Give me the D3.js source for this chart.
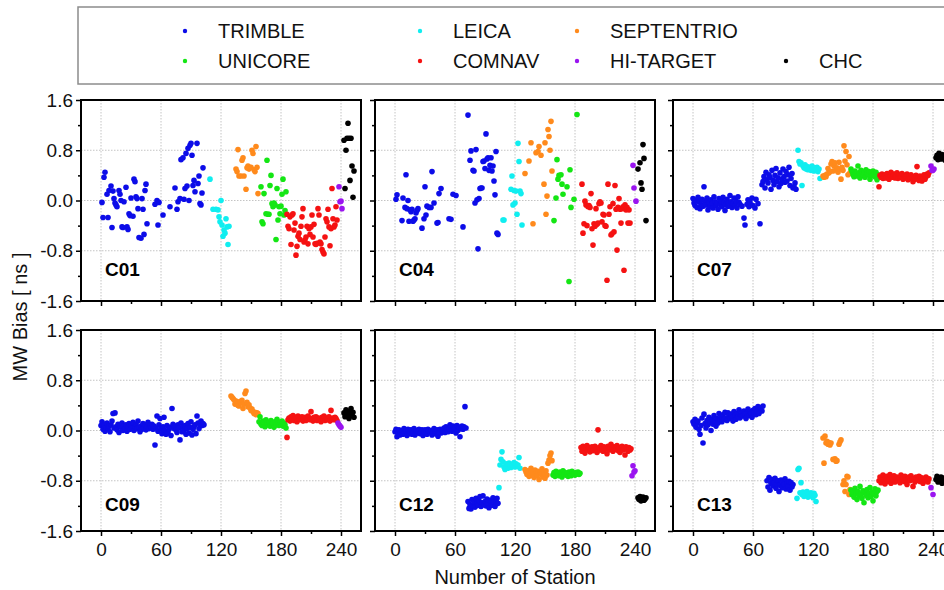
<!DOCTYPE html>
<html>
<head>
<meta charset="utf-8">
<script src="https://cdn.jsdelivr.net/npm/d3@7"></script>
<style>
  body { margin: 0; background: #fff; }
  svg { display: block; font-family: Arial, "Liberation Sans", sans-serif; }
</style>
</head>
<body>
<svg id="chart" width="944" height="590"></svg>
<script>
// receiver brands, in legend order, and the first station number of each group
const BRANDS = ["TRIMBLE", "LEICA", "SEPTENTRIO", "UNICORE", "COMNAV", "HI-TARGET", "CHC"];
const FIRST_STATION = { TRIMBLE: 0, LEICA: 104, SEPTENTRIO: 130, UNICORE: 158, COMNAV: 186, "HI-TARGET": 237, CHC: 243 };
const X_TICKS = [0, 60, 120, 180, 240];
const X_MINOR = [30, 90, 150, 210];
const Y_TICKS = [-1.6, -0.8, 0, 0.8, 1.6];
const Y_MINOR = [-1.2, -0.4, 0.4, 1.2];

// MW bias [ns] per station (null = no value)
const C01_TRIMBLE = [null,-0.03,-0.27,0.37,0.45,null,0.10,-0.27,0.16,null,
  0.23,-0.43,0.15,0.03,-0.04,-0.07,-0.10,null,0.16,0.10,
  0.00,-0.42,-0.43,-0.02,null,0.21,-0.42,-0.46,-0.21,-0.24,
  0.04,null,-0.25,0.34,0.30,0.06,0.03,-0.13,-0.59,null,
  -0.60,0.03,-0.14,-0.54,0.16,0.26,-0.37,null,null,null,
  null,null,null,null,-0.06,null,0.00,-0.39,-0.03,null,
  null,null,-0.23,null,null,null,null,null,null,-0.10,
  null,null,null,null,0.20,null,-0.14,-0.02,null,0.03,
  0.65,null,0.68,0.02,0.19,0.75,0.23,0.83,0.00,0.88,
  0.91,0.72,0.24,0.32,0.14,null,0.91,0.27,0.39,-0.05,
  -0.07,0.12,0.52,null];
const C01_LEICA = [null,null,null,null,null,0.34,null,null,-0.14,null,null,-0.14,null,-0.15,-0.26,-0.34,0.00,-0.39,-0.57,-0.47,-0.52,-0.29,-0.42,-0.70,-0.41,null];
const C01_SEPTENTRIO = [null,null,null,null,null,0.50,0.46,0.81,0.39,null,0.39,0.64,0.68,0.39,null,0.18,0.52,0.55,0.50,null,0.53,0.80,0.75,0.49,0.46,0.86,0.53,0.11];
const C01_UNICORE = [null,null,0.22,-0.34,-0.37,0.11,null,-0.21,0.64,-0.22,-0.22,0.24,0.40,-0.05,-0.10,-0.04,-0.07,-0.62,0.19,-0.31,-0.10,-0.21,-0.09,0.10,0.34,-0.23,-0.16,0.14];
const C01_COMNAV = [-0.22,-0.41,-0.45,-0.26,-0.70,-0.23,-0.21,-0.47,-0.36,-0.87,
  -0.73,-0.57,-0.52,-0.62,-0.41,-0.26,-0.13,-0.66,-0.63,-0.58,
  -0.41,-0.69,-0.45,-0.54,-0.42,-0.23,-0.58,-0.38,-0.69,-0.70,
  -0.68,-0.13,-0.23,-0.66,-0.69,-0.78,-0.82,-0.85,-0.58,-0.29,
  -0.34,-0.14,-0.42,-0.72,-0.45,0.19,-0.29,-0.42,-0.39,-0.10,-0.31];
const C01_HITARGET = [null,0.22,-0.02,-0.01,-0.13,null];
const C01_CHC = [0.96,0.19,0.80,0.99,1.23,0.99,0.32,0.99,0.55,0.05,0.47];

const C04_TRIMBLE = [null,0.02,0.09,null,null,null,null,-0.32,0.04,null,
  -0.11,0.41,-0.13,0.00,-0.33,-0.15,-0.18,-0.14,-0.33,-0.31,
  -0.29,-0.20,-0.16,-0.13,null,null,null,-0.44,null,-0.29,
  0.22,-0.23,-0.09,null,-0.11,null,-0.11,0.46,null,-0.04,
  null,null,-0.36,-0.35,0.11,null,0.19,null,null,null,
  null,null,null,null,-0.29,null,-0.30,null,0.10,null,
  null,0.08,null,null,null,null,null,null,-0.42,null,
  null,null,null,1.36,null,0.64,0.79,null,0.48,0.47,
  -0.04,0.81,0.01,-0.77,0.03,0.19,0.20,0.20,0.62,0.63,
  0.51,1.06,0.66,0.68,0.48,0.56,0.68,0.47,0.55,0.31,
  0.09,0.78,-0.52,-0.54];
const C04_LEICA = [null,null,null,null,-0.31,-0.31,null,null,null,null,null,null,0.18,0.39,-0.07,0.16,-0.04,0.15,-0.22,0.91,0.62,0.15,0.11,-0.39,null,null];
const C04_SEPTENTRIO = [0.43,null,null,null,0.63,null,0.92,null,-0.37,null,null,0.76,null,0.78,0.86,null,0.72,null,null,0.26,0.92,-0.22,0.07,1.13,1.02,0.80,1.26,0.47];
const C04_UNICORE = [null,-0.32,null,0.04,0.65,0.34,0.40,null,0.41,0.26,0.10,null,null,null,0.22,null,-1.29,0.49,-0.11,null,null,0.02,null,null,1.37,null,null,null];
const C04_COMNAV = [null,0.26,-0.52,-0.37,-0.01,-0.07,-0.40,-0.10,-0.08,-0.11,
  0.11,-0.45,-0.71,-0.37,-0.41,-0.13,-0.38,-0.36,-0.05,-0.02,
  -0.04,-0.34,-0.22,-0.23,-0.40,-0.41,-1.27,0.26,-0.22,-0.10,
  -0.55,-0.53,-0.05,-0.50,0.24,-0.14,-0.79,-0.11,0.03,-0.14,
  -0.36,-0.13,-0.10,-1.11,-0.07,-0.15,-0.11,-0.36,-0.15,-0.36,null];
const C04_HITARGET = [null,0.56,0.20,null,-0.01,null];
const C04_CHC = [0.50,null,0.60,0.28,0.18,0.89,0.67,null,-0.32,null,null];

const C07_TRIMBLE = [0.03,-0.04,-0.08,0.00,-0.11,0.05,-0.02,-0.13,-0.06,0.02,
  -0.09,0.22,-0.01,-0.07,0.04,-0.15,-0.03,-0.10,0.01,-0.05,
  -0.12,0.06,-0.02,-0.08,-0.04,-0.14,0.03,-0.06,-0.01,-0.10,
  0.05,-0.03,-0.16,-0.07,0.02,-0.09,-0.04,0.08,-0.02,-0.11,
  -0.05,0.04,-0.08,-0.01,-0.12,0.06,-0.03,-0.06,null,-0.09,
  null,-0.28,-0.39,null,-0.06,0.01,-0.10,-0.03,null,0.04,
  -0.08,null,-0.12,0.02,null,-0.05,null,-0.37,null,0.25,
  0.30,0.38,0.20,0.45,0.33,0.28,0.41,0.37,0.18,0.48,
  0.32,0.25,0.40,0.51,0.30,0.36,0.22,0.44,0.27,0.34,
  0.50,0.38,0.29,0.46,0.31,0.41,0.53,0.24,0.35,0.43,
  0.20,0.22,0.28,0.18];
const C07_LEICA = [null,0.80,0.62,0.58,0.60,0.24,0.55,0.52,0.57,0.50,0.54,0.49,0.53,0.51,0.48,0.55,0.50,0.47,0.52,0.49,0.53,0.46,0.50,0.35,null,null];
const C07_SEPTENTRIO = [0.39,0.37,0.40,0.38,0.42,0.51,0.44,0.46,0.58,0.62,0.47,0.55,0.60,0.49,0.52,0.45,0.61,0.50,0.34,0.53,0.48,0.87,0.63,0.78,0.57,0.41,0.70,0.44];
const C07_UNICORE = [0.50,0.46,0.41,0.38,0.47,0.43,0.39,0.55,0.44,0.36,0.48,0.42,0.40,0.45,0.37,0.49,0.43,0.41,0.46,0.34,0.44,0.40,0.47,0.42,0.38,0.45,0.33,0.41];
const C07_COMNAV = [0.22,0.40,0.37,0.42,0.35,0.39,0.41,0.36,0.43,0.38,
  0.34,0.40,0.45,0.37,0.39,0.42,0.36,0.38,0.44,0.35,
  0.41,0.37,0.39,0.43,0.34,0.40,0.36,0.38,0.42,0.33,
  0.39,0.35,0.41,0.37,0.30,0.38,0.34,0.40,0.54,0.36,
  0.32,0.39,0.35,0.31,0.37,0.41,0.34,0.38,0.42,0.40,0.44];
const C07_HITARGET = [null,0.55,0.48,0.48,0.50,null];
const C07_CHC = [0.68,0.72,0.65,0.75,0.70,0.66,0.73,0.69,0.71,0.64,0.74];

const C09_TRIMBLE = [0.08,0.14,0.02,0.10,-0.01,0.05,0.12,0.03,0.07,-0.02,
  0.09,0.15,0.27,0.04,0.28,0.06,0.01,0.10,-0.03,0.08,
  0.05,0.12,0.00,0.07,0.03,0.09,-0.01,0.06,0.11,0.02,
  0.08,0.04,0.13,0.00,0.06,0.10,0.03,0.15,0.05,-0.02,
  0.07,0.02,0.11,0.04,0.09,0.01,0.06,0.13,0.03,0.08,
  0.05,0.10,0.02,0.07,-0.23,0.04,0.23,-0.01,0.09,0.19,
  0.03,-0.05,0.06,0.21,0.00,-0.06,0.08,-0.04,0.02,0.05,
  -0.08,0.35,0.10,0.03,0.07,0.01,-0.03,0.09,0.04,-0.15,
  0.12,-0.02,0.06,0.00,0.08,-0.06,0.03,0.11,-0.04,0.05,
  0.14,-0.07,0.02,0.06,0.09,-0.05,0.23,0.12,0.03,0.10,
  0.15,0.08,0.11,0.09];
const C09_LEICA = [];
const C09_SEPTENTRIO = [0.55,0.53,0.51,0.49,0.42,0.47,0.45,0.40,0.39,0.46,0.44,0.48,0.35,0.42,0.59,0.63,0.45,0.38,0.41,0.36,0.32,0.34,0.30,0.27,0.29,0.25,0.28,0.27];
const C09_UNICORE = [0.14,0.22,0.10,0.08,0.15,0.12,0.06,0.17,0.11,0.09,0.13,0.07,0.16,0.10,0.12,0.05,0.14,0.09,0.18,0.11,0.08,0.13,0.10,0.15,0.07,0.12,0.09,0.04];
const C09_COMNAV = [-0.11,0.17,0.20,0.15,0.22,0.18,0.24,0.16,0.21,0.19,
  0.14,0.23,0.17,0.20,0.18,0.22,0.15,0.19,0.21,0.16,
  0.18,0.23,0.20,0.17,0.30,0.19,0.15,0.21,0.18,0.22,
  0.16,0.20,0.17,0.19,0.14,0.21,0.18,0.23,0.16,0.20,
  0.17,0.19,0.22,0.15,0.32,0.18,0.20,0.17,0.21,0.19,0.16];
const C09_HITARGET = [0.12,0.09,0.07,0.05,null,null];
const C09_CHC = [0.28,0.22,0.33,0.25,0.30,0.19,0.27,0.35,0.24,0.29,0.21];

const C12_TRIMBLE = [-0.02,0.02,-0.10,-0.05,0.01,-0.07,-0.03,0.00,-0.06,0.03,
  -0.04,-0.01,-0.08,0.02,-0.05,-0.02,0.01,-0.06,-0.03,0.03,
  -0.07,0.00,-0.04,-0.01,0.02,-0.05,-0.03,0.01,-0.08,-0.02,
  0.01,-0.04,-0.06,0.02,-0.01,-0.03,0.00,-0.07,-0.02,0.03,
  -0.05,-0.01,0.01,-0.09,-0.03,0.02,-0.04,0.00,-0.02,0.04,
  -0.03,0.06,0.01,-0.02,0.03,0.09,0.05,-0.01,0.07,0.02,
  0.04,-0.04,0.08,0.00,0.05,-0.10,0.03,0.07,0.02,0.06,
  0.38,0.04,null,-1.13,-1.24,-1.18,-1.25,-1.10,-1.20,-1.14,
  -1.22,-1.08,-1.16,-1.19,-1.12,-1.05,-1.21,-1.15,-1.04,-1.18,
  -1.13,-1.20,-1.09,-1.17,-1.23,-1.11,-1.15,-1.19,-1.07,-1.14,
  -1.21,-1.12,-1.08,-1.16];
const C12_LEICA = [-0.91,-0.55,-0.46,-0.34,-0.50,-0.58,-0.62,-0.53,-0.57,-0.60,-0.52,-0.55,-0.59,-0.54,-0.56,-0.51,-0.58,-0.53,-0.57,-0.55,-0.43,-0.60,null,null,null,null];
const C12_SEPTENTRIO = [-0.62,-0.66,-0.70,-0.64,-0.73,-0.68,-0.60,-0.71,-0.66,-0.75,-0.63,-0.69,-0.72,-0.65,-0.78,-0.67,-0.70,-0.61,-0.74,-0.68,-0.76,-0.64,-0.71,-0.52,-0.47,-0.40,-0.36,-0.48];
const C12_UNICORE = [-0.71,-0.67,-0.73,-0.65,-0.70,-0.68,-0.72,-0.66,-0.69,-0.74,-0.64,-0.70,-0.67,-0.71,-0.68,-0.73,-0.66,-0.69,-0.72,-0.65,-0.70,-0.68,-0.71,-0.67,-0.69,-0.66,-0.70,-0.68];
const C12_COMNAV = [-0.27,-0.33,-0.25,-0.30,-0.36,-0.28,-0.24,-0.31,-0.27,-0.34,
  -0.29,-0.26,-0.32,-0.28,-0.25,-0.30,-0.35,0.01,-0.27,-0.31,
  -0.24,-0.29,-0.33,-0.26,-0.30,-0.28,-0.37,-0.25,-0.31,-0.27,
  -0.22,-0.29,-0.33,-0.26,-0.30,-0.28,-0.24,-0.32,-0.27,-0.35,
  -0.29,-0.25,-0.31,-0.28,-0.39,-0.26,-0.30,-0.33,-0.27,-0.31,-0.29];
const C12_HITARGET = [-0.72,-0.56,-0.66,-0.64,null,null];
const C12_CHC = [-1.07,-1.10,-1.05,-1.12,-1.08,-1.06,-1.11,-1.09,-1.07,null,null];

const C13_TRIMBLE = [0.14,0.10,0.18,0.05,0.12,0.15,0.02,-0.06,0.08,0.20,
  -0.20,0.26,0.11,0.04,0.16,0.09,0.21,0.13,0.00,0.18,
  0.10,0.24,0.15,0.07,0.19,0.12,0.27,0.17,0.22,0.14,
  0.25,0.18,0.29,0.20,0.16,0.28,0.23,0.19,0.26,0.21,
  0.15,0.30,0.24,0.18,0.27,0.22,0.33,0.20,0.25,0.29,
  0.23,0.31,0.26,0.19,0.28,0.34,0.24,0.30,0.27,0.21,
  0.32,0.28,0.35,0.25,0.30,0.38,0.27,0.33,0.36,0.31,
  0.39,null,null,null,-0.80,-0.90,-0.75,-0.95,-0.84,-0.78,
  -0.88,-0.83,-0.76,-0.92,-0.85,-0.80,-0.97,-0.87,-0.79,-0.91,
  -0.82,-0.86,-0.77,-0.93,-0.84,-0.89,-0.81,-0.95,-0.83,-0.90,
  -0.86,null,null,null];
const C13_LEICA = [-1.08,-0.62,-0.60,-0.99,-0.83,-1.02,-0.98,-1.05,-1.00,-1.03,-0.97,-1.06,-1.01,-1.04,-0.99,-1.02,-1.07,-1.00,-1.03,-1.13,null,null,null,null,null,null];
const C13_SEPTENTRIO = [-0.12,-0.52,-0.09,-0.20,-0.17,-0.22,-0.19,-0.23,-0.20,null,-0.46,null,-0.45,-0.49,-0.48,null,-0.22,-0.18,-0.15,null,-0.86,-0.80,-0.97,-0.86,-0.73,-0.74,-1.02,-0.94];
const C13_UNICORE = [-0.95,-1.02,-0.98,-1.06,-0.92,-1.00,-1.10,-0.97,-1.04,-0.89,-1.01,-1.08,-0.96,-1.15,-0.99,-1.03,-0.94,-1.07,-1.00,-0.91,-1.05,-0.98,-1.12,-1.01,-0.93,-1.04,-0.97,-0.95];
const C13_COMNAV = [-0.80,-0.74,-0.83,-0.77,-0.71,-0.79,-0.85,-0.76,-0.73,-0.81,
  -0.78,-0.70,-0.84,-0.75,-0.79,-0.72,-0.82,-0.77,-0.74,-0.80,
  -0.76,-0.83,-0.71,-0.78,-0.75,-0.81,-0.73,-0.79,-0.86,-0.77,
  -0.74,-0.80,-0.72,-0.78,-0.89,-0.76,-0.82,-0.74,-0.79,-0.77,
  -0.73,-0.81,-0.75,-0.78,-0.84,-0.76,-0.80,-0.74,-0.79,-0.82,-0.77];
const C13_HITARGET = [null,-0.91,null,-1.02,null,null];
const C13_CHC = [-0.78,-0.73,-0.82,-0.76,-0.80,-0.74,-0.84,-0.77,-0.79,-0.75,null];

const panels = [
  { name: "C01", series: { TRIMBLE: C01_TRIMBLE, LEICA: C01_LEICA, SEPTENTRIO: C01_SEPTENTRIO, UNICORE: C01_UNICORE, COMNAV: C01_COMNAV, "HI-TARGET": C01_HITARGET, CHC: C01_CHC } },
  { name: "C04", series: { TRIMBLE: C04_TRIMBLE, LEICA: C04_LEICA, SEPTENTRIO: C04_SEPTENTRIO, UNICORE: C04_UNICORE, COMNAV: C04_COMNAV, "HI-TARGET": C04_HITARGET, CHC: C04_CHC } },
  { name: "C07", series: { TRIMBLE: C07_TRIMBLE, LEICA: C07_LEICA, SEPTENTRIO: C07_SEPTENTRIO, UNICORE: C07_UNICORE, COMNAV: C07_COMNAV, "HI-TARGET": C07_HITARGET, CHC: C07_CHC } },
  { name: "C09", series: { TRIMBLE: C09_TRIMBLE, LEICA: C09_LEICA, SEPTENTRIO: C09_SEPTENTRIO, UNICORE: C09_UNICORE, COMNAV: C09_COMNAV, "HI-TARGET": C09_HITARGET, CHC: C09_CHC } },
  { name: "C12", series: { TRIMBLE: C12_TRIMBLE, LEICA: C12_LEICA, SEPTENTRIO: C12_SEPTENTRIO, UNICORE: C12_UNICORE, COMNAV: C12_COMNAV, "HI-TARGET": C12_HITARGET, CHC: C12_CHC } },
  { name: "C13", series: { TRIMBLE: C13_TRIMBLE, LEICA: C13_LEICA, SEPTENTRIO: C13_SEPTENTRIO, UNICORE: C13_UNICORE, COMNAV: C13_COMNAV, "HI-TARGET": C13_HITARGET, CHC: C13_CHC } }
];

const color = d3.scaleOrdinal()
  .domain(BRANDS)
  .range(["#0c0ce8", "#10eef0", "#ff8a1c", "#14e614", "#f51212", "#9a14f0", "#000000"]);

const svg = d3.select("#chart");
const W = 280, H = 201;
const colX = [81, 375, 673], rowY = [100, 330];

const x = d3.scaleLinear().domain([-20, 260]).range([0, W]);
const y = d3.scaleLinear().domain([-1.6, 1.6]).range([H, 0]);

// legend box
svg.append("rect")
  .attr("x", 78).attr("y", 7).attr("width", 900).attr("height", 77)
  .attr("fill", "#fff").attr("stroke", "#8c8c8c").attr("stroke-width", 1.5);

const legendPos = {
  TRIMBLE: [185, 31], LEICA: [420, 31], SEPTENTRIO: [577, 31],
  UNICORE: [185, 61], COMNAV: [420, 61], "HI-TARGET": [577, 61], CHC: [786, 61]
};
const legend = svg.append("g").selectAll("g").data(BRANDS).join("g")
  .attr("transform", (d) => `translate(${legendPos[d][0]},${legendPos[d][1]})`);
legend.append("circle").attr("r", 2.2).attr("fill", (d) => color(d));
legend.append("text")
  .attr("x", 33).attr("y", 7)
  .attr("font-size", 20)
  .attr("fill", "#111")
  .text((d) => d);

panels.forEach((p, i) => {
  const col = i % 3, row = Math.floor(i / 3);
  const g = svg.append("g").attr("transform", `translate(${colX[col]},${rowY[row]})`);

  // dotted grid
  g.selectAll(".gx").data(X_TICKS).join("line")
    .attr("x1", (d) => x(d)).attr("x2", (d) => x(d))
    .attr("y1", 0).attr("y2", H)
    .attr("stroke", "#c4c4c4").attr("stroke-dasharray", "1.5,1.5");
  g.selectAll(".gy").data([-0.8, 0, 0.8]).join("line")
    .attr("x1", 0).attr("x2", W)
    .attr("y1", (d) => y(d)).attr("y2", (d) => y(d))
    .attr("stroke", "#c4c4c4").attr("stroke-dasharray", "1.5,1.5");

  // points
  const pts = [];
  BRANDS.forEach((b) => {
    p.series[b].forEach((v, k) => {
      if (v !== null) pts.push({ brand: b, station: FIRST_STATION[b] + k, value: v });
    });
  });
  g.selectAll(".pt").data(pts).join("circle")
    .attr("cx", (d) => x(d.station))
    .attr("cy", (d) => y(d.value))
    .attr("r", 2.8)
    .attr("fill", (d) => color(d.brand));

  // frame
  g.append("rect")
    .attr("width", W).attr("height", H)
    .attr("fill", "none").attr("stroke", "#000").attr("stroke-width", 2);

  // axes
  const xa = g.append("g").attr("transform", `translate(0,${H})`)
    .call(d3.axisBottom(x).tickValues(X_TICKS).tickSize(5).tickSizeOuter(0)
      .tickFormat(row === 1 ? (d) => d : () => ""));
  g.append("g").attr("transform", `translate(0,${H})`)
    .call(d3.axisBottom(x).tickValues(X_MINOR).tickSize(3).tickSizeOuter(0).tickFormat(() => ""));
  g.append("g")
    .call(d3.axisLeft(y).tickValues(Y_TICKS).tickSize(5).tickSizeOuter(0)
      .tickFormat(col === 0 ? (d) => d.toFixed(1) : () => ""));
  g.append("g")
    .call(d3.axisLeft(y).tickValues(Y_MINOR).tickSize(3).tickSizeOuter(0).tickFormat(() => ""));

  g.selectAll(".domain").remove();
  g.selectAll(".tick line").attr("stroke", "#000").attr("stroke-width", 1.5);
  g.selectAll(".tick text").attr("font-size", 19).attr("fill", "#111")
    .attr("font-family", "Arial, 'Liberation Sans', sans-serif");
  xa.selectAll(".tick text").attr("dy", "0.9em");

  // panel label
  g.append("text")
    .attr("x", 24).attr("y", row === 0 ? 176 : 181)
    .attr("font-size", 19).attr("font-weight", "bold")
    .text(p.name);
});

// axis titles
svg.append("text")
  .attr("transform", "translate(27,317) rotate(-90)")
  .attr("text-anchor", "middle")
  .attr("font-size", 20).attr("fill", "#111")
  .text("MW Bias [ ns ]");

svg.append("text")
  .attr("x", 515).attr("y", 584)
  .attr("text-anchor", "middle")
  .attr("font-size", 20).attr("fill", "#111")
  .text("Number of Station");
</script>
</body>
</html>
